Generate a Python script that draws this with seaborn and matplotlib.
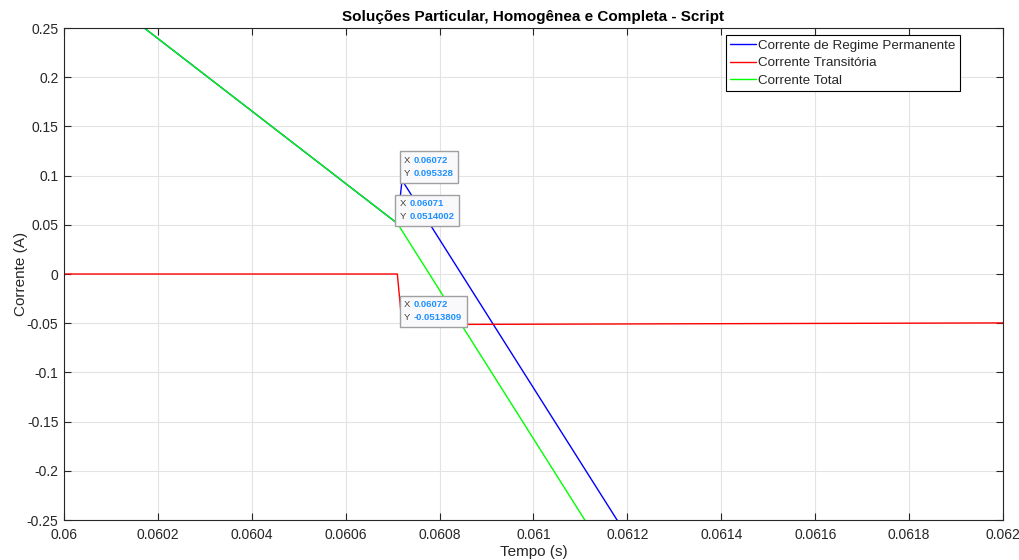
import matplotlib
matplotlib.use("Agg")
import matplotlib.pyplot as plt
from matplotlib.offsetbox import TextArea, HPacker, VPacker, AnnotationBbox
import seaborn as sns

# Steady-state (particular) current
t_perm = [0.06, 0.06071, 0.06072, 0.0613]
i_perm = [0.313, 0.0514002, 0.095328, -0.342]

# Transient (homogeneous) current
t_trans = [0.06, 0.06071, 0.06072, 0.062]
i_trans = [0.0, 0.0, -0.0513809, -0.0497]

# Total (complete) current
t_total = [0.06, 0.06071, 0.06072, 0.0613]
i_total = [0.313, 0.0514002, 0.043947, -0.394]

# Data tips: (x, y, x text, y text)
tips = [(0.06072, 0.095328, "0.06072", "0.095328"),
        (0.06071, 0.0514002, "0.06071", "0.0514002"),
        (0.06072, -0.0513809, "0.06072", "-0.0513809")]

x_ticks = [0.06, 0.0602, 0.0604, 0.0606, 0.0608, 0.061, 0.0612, 0.0614, 0.0616, 0.0618, 0.062]
x_labels = ["0.06", "0.0602", "0.0604", "0.0606", "0.0608", "0.061", "0.0612", "0.0614", "0.0616", "0.0618", "0.062"]
y_ticks = [-0.25, -0.2, -0.15, -0.1, -0.05, 0, 0.05, 0.1, 0.15, 0.2, 0.25]
y_labels = ["-0.25", "-0.2", "-0.15", "-0.1", "-0.05", "0", "0.05", "0.1", "0.15", "0.2", "0.25"]

sns.set_theme(style="white")
plt.rcParams["font.family"] = ["Liberation Sans", "DejaVu Sans"]

fig = plt.figure(figsize=(10.19, 5.6), dpi=100)
ax = fig.add_axes([0.0628, 0.0714, 0.9215, 0.8786])

sns.lineplot(x=t_perm, y=i_perm, color="#0000FF", lw=1.0, ax=ax,
             label="Corrente de Regime Permanente", estimator=None)
sns.lineplot(x=t_trans, y=i_trans, color="#FF0000", lw=1.0, ax=ax,
             label="Corrente Transitória", estimator=None)
sns.lineplot(x=t_total, y=i_total, color="#00FF00", lw=1.0, ax=ax,
             label="Corrente Total", estimator=None)

ax.set_xlim(0.06, 0.062)
ax.set_ylim(-0.25, 0.25)
ax.set_xticks(x_ticks)
ax.set_xticklabels(x_labels)
ax.set_yticks(y_ticks)
ax.set_yticklabels(y_labels)
ax.grid(True, color="#E3E3E3", lw=0.8)
ax.set_axisbelow(True)
for s in ax.spines.values():
    s.set_color("#262626")
    s.set_linewidth(0.8)
ax.tick_params(direction="in", length=5, width=0.8, color="#262626",
               labelsize=10, labelcolor="#262626", top=True, right=True,
               bottom=True, left=True, pad=4)
ax.tick_params(axis="x", pad=6)

ax.set_xlabel("Tempo (s)", fontsize=11, color="#262626", labelpad=2)
ax.set_ylabel("Corrente (A)", fontsize=11, color="#262626", labelpad=-1)
ax.set_title("Soluções Particular, Homogênea e Completa - Script",
             fontsize=11, fontweight="bold", color="black", pad=5)

leg = ax.legend(loc="upper right", bbox_to_anchor=(0.954, 0.986),
                borderaxespad=0, fontsize=9.6, frameon=True, fancybox=False,
                framealpha=1, edgecolor="black", handlelength=1.9,
                handletextpad=0.15, labelspacing=0.38, borderpad=0.35)
leg.get_frame().set_linewidth(0.8)

# Data tips with marker and labelled box
for x, y, xs, ys in tips:
    ax.plot([x], [y], marker="o", ms=2.5, color="black", zorder=6)
    rows = []
    for name, val in (("X", xs), ("Y", ys)):
        rows.append(HPacker(children=[
            TextArea(name, textprops=dict(color="#404040", fontsize=6.8)),
            TextArea(val, textprops=dict(color="#1E90FF", fontsize=6.8,
                                         fontweight="bold"))],
            align="baseline", pad=0, sep=2.5))
    box = VPacker(children=rows, align="left", pad=0, sep=3)
    ab = AnnotationBbox(box, (x, y), xybox=(1.5, 1.5), xycoords="data",
                        boxcoords="offset points", box_alignment=(0, 0),
                        frameon=True, pad=0.45, zorder=7,
                        bboxprops=dict(facecolor="#F9F9FB", edgecolor="#A0A0A0",
                                       lw=1.0, boxstyle="square"))
    ax.add_artist(ab)

fig.savefig("out.png", dpi=100)
